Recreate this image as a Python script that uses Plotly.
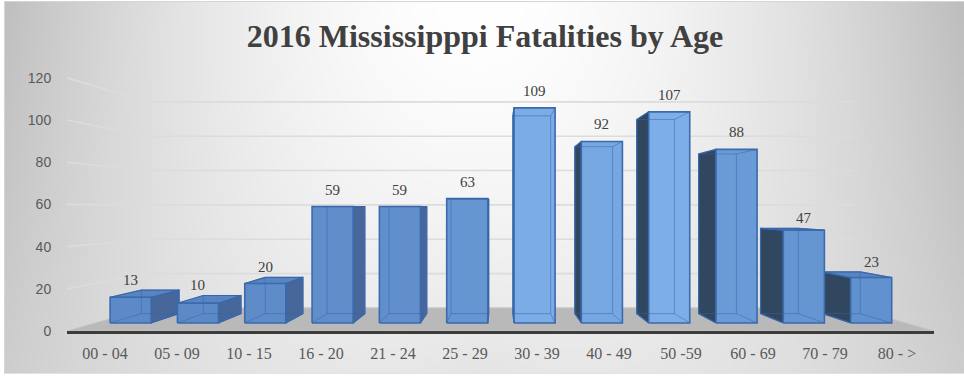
import base64
import struct
import zlib

import numpy as np
import plotly.graph_objects as go

# ---- data ----
categories = ["00 - 04", "05 - 09", "10 - 15", "16 - 20", "21 - 24", "25 - 29",
              "30 - 39", "40 - 49", "50 -59", "60 - 69", "70 - 79", "80 - >"]
fatalities = [13, 10, 20, 59, 59, 63, 109, 92, 107, 88, 47, 23]
y_ticks = [0, 20, 40, 60, 80, 100, 120]
title_text = "2016 Mississipppi Fatalities by Age"

# ---- figure geometry ----
W, H = 964, 376
M_L, M_R, M_T, M_B = 67, 30, 60, 45
PLOT_W = W - M_L - M_R
PLOT_H = H - M_T - M_B
PX_PER_CAT = 72.0
PX_PER_UNIT = 2.11
X0_PX = 105.0                       # pixel position of the first category
X_MIN = (M_L - X0_PX) / PX_PER_CAT
X_MAX = (W - M_R - X0_PX) / PX_PER_CAT
Y_MAX = PLOT_H / PX_PER_UNIT

# ---- pseudo-3D projection (perspective towards a vanishing point) ----
VX, VY = 5.48, 58.77                # vanishing point in axis units
S_FRONT, S_BACK, S_WALL = 0.935, 0.86, 0.814
HALF_W = 0.305


def proj(x, v, s):
    return VX + s * (x - VX), VY + s * (v - VY)


def poly(points):
    xs = [p[0] for p in points] + [points[0][0]]
    ys = [p[1] for p in points] + [points[0][1]]
    return xs, ys


# ---- background gradient as an inline PNG ----
def gray_png(arr):
    h, w = arr.shape
    raw = b"".join(b"\x00" + arr[r].tobytes() for r in range(h))

    def chunk(tag, data):
        c = struct.pack(">I", len(data)) + tag + data
        return c + struct.pack(">I", zlib.crc32(tag + data) & 0xFFFFFFFF)

    png = b"\x89PNG\r\n\x1a\n"
    png += chunk(b"IHDR", struct.pack(">IIBBBBB", w, h, 8, 0, 0, 0, 0))
    png += chunk(b"IDAT", zlib.compress(raw, 9))
    png += chunk(b"IEND", b"")
    return "data:image/png;base64," + base64.b64encode(png).decode()


yy, xx = np.mgrid[0:H, 0:W].astype(float)
dx = np.clip(np.abs(xx - 480) / 480.0, 0, 1)
yn = yy / H
bg = 255 - (65 - 15 * yn) * dx ** 1.8 - 27 * yn ** 1.5 * (1 - dx)
bg = np.clip(bg, 0, 255)
bg[:, :4] = 255
bg[0, :] = 255
bg[374:, :] = 255
bg[1, 4:] = 212
bg[373, 4:] = 226
bg[1:374, 4] = 214
bg_img = gray_png(bg.astype(np.uint8))

fig = go.Figure()

# ---- walls: gridlines on the left and back walls ----
gx, gy = [], []
for t in y_ticks:
    a = proj(X_MIN, t, 1.0)
    b = proj(X_MIN, t, S_WALL)
    c = proj(X_MAX, t, S_WALL)
    gx += [a[0], b[0], c[0], None]
    gy += [a[1], b[1], c[1], None]
fig.add_trace(go.Scatter(x=gx, y=gy, mode="lines",
                         line=dict(color="#dcdcdc", width=1.6),
                         hoverinfo="skip", showlegend=False))

# ---- floor ----
fx, fy = poly([proj(X_MIN, 0, 1.0), proj(X_MAX, 0, 1.0),
               proj(X_MAX, 0, S_WALL), proj(X_MIN, 0, S_WALL)])
fig.add_trace(go.Scatter(x=fx, y=fy, mode="lines", fill="toself",
                         fillcolor="#b9b9b9", line=dict(color="#c4c4c4", width=1),
                         hoverinfo="skip", showlegend=False))

# ---- bar styling ----
front_colors = ["#5c8ac7", "#5c8ac7", "#5e8cc9", "#5f8ecb", "#608fcc", "#6596d1",
                "#7cace6", "#77a7e1", "#7eaee8", "#6b9bd6", "#6696d2", "#6191ce"]
edge_color = "#3b6aad"
right_side_color = "#47679a"
left_side_color = "#31465f"
top_color = "#5885c2"
hidden_edge = "rgba(55,100,170,0.5)"

order = sorted(range(len(fatalities)), key=lambda i: -abs(i - VX))
for i in order:
    v = fatalities[i]
    xl, xr = i - HALF_W, i + HALF_W
    F = {(xx_, vv): proj(xx_, vv, S_FRONT) for xx_ in (xl, xr) for vv in (0, v)}
    B = {(xx_, vv): proj(xx_, vv, S_BACK) for xx_ in (xl, xr) for vv in (0, v)}

    # side face
    if xr < VX:
        sx, sy = poly([F[(xr, 0)], B[(xr, 0)], B[(xr, v)], F[(xr, v)]])
        fig.add_trace(go.Scatter(x=sx, y=sy, mode="lines", fill="toself",
                                 fillcolor=right_side_color,
                                 line=dict(color=edge_color, width=1.2),
                                 hoverinfo="skip", showlegend=False))
    if xl > VX:
        sx, sy = poly([F[(xl, 0)], B[(xl, 0)], B[(xl, v)], F[(xl, v)]])
        fig.add_trace(go.Scatter(x=sx, y=sy, mode="lines", fill="toself",
                                 fillcolor=left_side_color,
                                 line=dict(color=edge_color, width=1.2),
                                 hoverinfo="skip", showlegend=False))
    # top face (seen from above only below eye level)
    if v < VY:
        tx, ty = poly([F[(xl, v)], F[(xr, v)], B[(xr, v)], B[(xl, v)]])
        fig.add_trace(go.Scatter(x=tx, y=ty, mode="lines", fill="toself",
                                 fillcolor=top_color,
                                 line=dict(color=edge_color, width=1.2),
                                 hoverinfo="skip", showlegend=False))
    # front face
    ox, oy = poly([F[(xl, 0)], F[(xr, 0)], F[(xr, v)], F[(xl, v)]])
    fig.add_trace(go.Scatter(x=ox, y=oy, mode="lines", fill="toself",
                             fillcolor=front_colors[i],
                             line=dict(color=edge_color, width=1.6),
                             hoverinfo="skip", showlegend=False))
    # edges seen through the translucent box
    ex, ey = [], []
    bx, by = poly([B[(xl, 0)], B[(xr, 0)], B[(xr, v)], B[(xl, v)]])
    ex += bx + [None]
    ey += by + [None]
    for key in F:
        ex += [F[key][0], B[key][0], None]
        ey += [F[key][1], B[key][1], None]
    fig.add_trace(go.Scatter(x=ex, y=ey, mode="lines",
                             line=dict(color=hidden_edge, width=1),
                             hoverinfo="skip", showlegend=False))

    # value label above the bar
    front_top = proj(i, v, S_FRONT)
    back_top = proj(i, v, S_BACK)
    top_y = max(front_top[1], back_top[1])
    fig.add_annotation(x=front_top[0], y=top_y, text=str(v), showarrow=False,
                       xanchor="center", yanchor="middle",
                       yshift=10 if v < VY else 17,
                       font=dict(family="Liberation Serif, Times New Roman, serif",
                                 size=15, color="#404040"))

fig.update_layout(
    width=W, height=H,
    margin=dict(l=M_L, r=M_R, t=M_T, b=M_B, pad=0),
    paper_bgcolor="white",
    plot_bgcolor="rgba(0,0,0,0)",
    title=dict(text=title_text, x=(485 - M_L) / PLOT_W, xref="paper",
               xanchor="center", y=1 - 36 / H, yanchor="middle",
               font=dict(family="Liberation Serif, Times New Roman, serif",
                         size=32, color="#404040", weight="bold")),
    images=[dict(source=bg_img, xref="paper", yref="paper",
                 x=-M_L / PLOT_W, y=1 + M_T / PLOT_H,
                 sizex=W / PLOT_W, sizey=H / PLOT_H,
                 xanchor="left", yanchor="top", sizing="stretch",
                 layer="below")],
    xaxis=dict(range=[X_MIN, X_MAX], tickmode="array",
               tickvals=list(range(len(categories))), ticktext=categories,
               showgrid=False, zeroline=False,
               showline=True, linecolor="#3c3c3c", linewidth=2.5,
               ticks="outside", ticklen=6, tickcolor="rgba(0,0,0,0)",
               tickfont=dict(family="Liberation Serif, Times New Roman, serif",
                             size=16, color="#595959")),
    yaxis=dict(range=[0, Y_MAX], tickmode="array", tickvals=y_ticks,
               showgrid=False, zeroline=False, showline=False,
               ticks="outside", ticklen=12, tickcolor="rgba(0,0,0,0)",
               tickfont=dict(family="Liberation Sans, Arial, sans-serif",
                             size=14, color="#595959")),
)

fig.write_html("out.html")
